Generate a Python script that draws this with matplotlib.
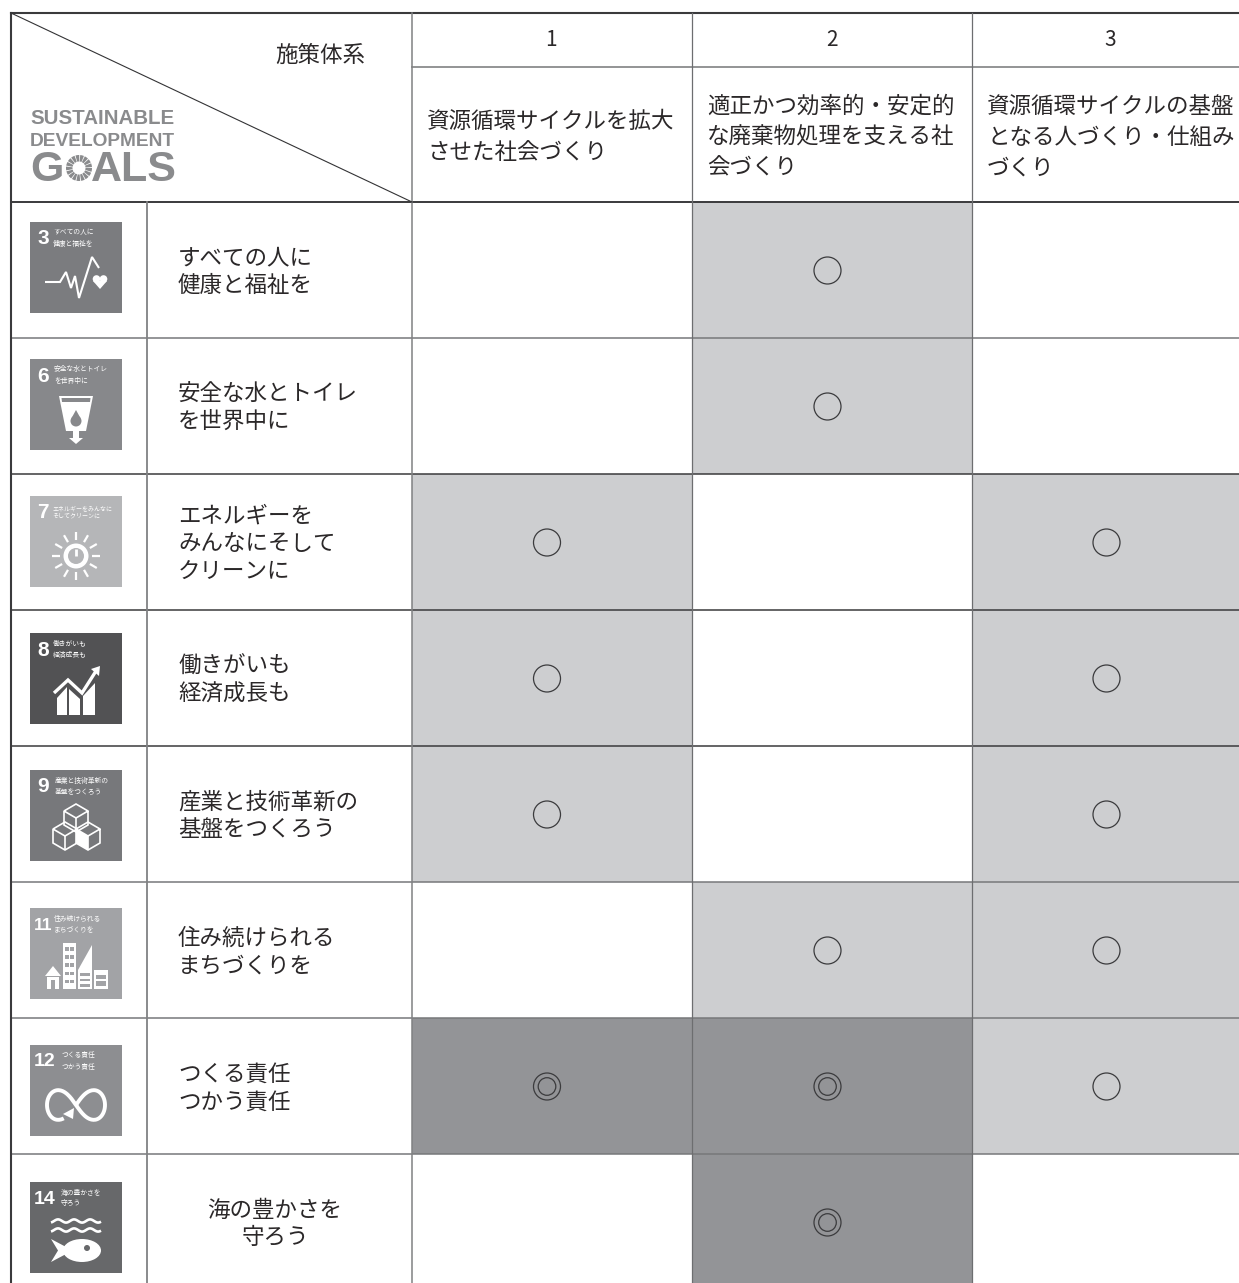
import numpy as np
import matplotlib
matplotlib.use("Agg")
import matplotlib.pyplot as plt
from matplotlib.patches import Rectangle, Circle, Polygon, Wedge, Ellipse

plt.rcParams["font.family"] = ["Noto Sans CJK JP", "DejaVu Sans"]

W, H = 1239, 1283

# the table
col_heads = ["1", "2", "3"]
col_titles = [
    "資源循環サイクルを拡大\nさせた社会づくり",
    "適正かつ効率的・安定的\nな廃棄物処理を支える社\n会づくり",
    "資源循環サイクルの基盤\nとなる人づくり・仕組み\nづくり",
]
goal_nums = ["3", "6", "7", "8", "9", "11", "12", "14"]
goal_names = [
    "すべての人に\n健康と福祉を",
    "安全な水とトイレ\nを世界中に",
    "エネルギーを\nみんなにそして\nクリーンに",
    "働きがいも\n経済成長も",
    "産業と技術革新の\n基盤をつくろう",
    "住み続けられる\nまちづくりを",
    "つくる責任\nつかう責任",
    "海の豊かさを\n守ろう",
]
goal_small = [
    "すべての人に\n健康と福祉を",
    "安全な水とトイレ\nを世界中に",
    "エネルギーをみんなに\nそしてクリーンに",
    "働きがいも\n経済成長も",
    "産業と技術革新の\n基盤をつくろう",
    "住み続けられる\nまちづくりを",
    "つくる責任\nつかう責任",
    "海の豊かさを\n守ろう",
]
icon_colors = ["#7b7c7f", "#87888b", "#b5b6b8", "#525254", "#77787b", "#a2a3a6", "#8d8e91", "#67686a"]
# 0 blank, 1 single circle, 2 double circle
marks_1 = [0, 0, 1, 1, 1, 0, 2, 0]
marks_2 = [1, 1, 0, 0, 0, 1, 2, 2]
marks_3 = [0, 0, 1, 1, 1, 1, 1, 0]

col_x = [412, 692, 972, 1239]
row_y = [202, 338, 474, 610, 746, 882, 1018, 1154, 1283]
row_line_colors = ["#77787a", "#3a3a3c", "#3a3a3c", "#3a3a3c", "#77787a", "#77787a", "#77787a"]
icon_tops = [222, 359, 496, 633, 770, 908, 1045, 1182]
mark_x = [547, 827.5, 1106.5]
small_x = [23, 24, 22, 23, 25, 24, 32, 31]
num_sizes = [15, 15, 15, 15, 15, 12.5, 14, 14]
LIGHT = "#cdced0"
DARK = "#939497"
LINE = "#3a3a3c"
TXT = "#2b2829"
LOGO = "#8a8b8d"


def icon_glyph(ax, num, x, y, bg):
    # x, y = top left of the 92px square, glyph drawn white in local coords
    def P(pts, color="white"):
        ax.add_patch(Polygon([(x + a, y + b) for a, b in pts], closed=True, color=color, lw=0, zorder=2))

    def R(a, b, w, h, color="white"):
        ax.add_patch(Rectangle((x + a, y + b), w, h, color=color, lw=0, zorder=2))

    def C(a, b, r, color="white"):
        ax.add_patch(Circle((x + a, y + b), r, color=color, lw=0, zorder=2))

    def L(pts, lw=2.0):
        ax.plot([x + a for a, b in pts], [y + b for a, b in pts], color="white", lw=lw,
                solid_joinstyle="miter", solid_capstyle="butt", zorder=2.5)

    if num == "3":
        L([(15, 60), (30, 60), (36, 50), (41, 66), (45, 54), (49, 76), (62, 35), (69, 46)], 1.5)
        C(66.5, 57, 3.8)
        C(73.5, 57, 3.8)
        P([(63, 59), (77, 59), (70, 67)])
    elif num == "6":
        P([(29, 37), (63, 37), (56, 72), (36, 72)])
        P([(31.5, 39), (60.5, 39), (60, 43), (32, 43)], bg)
        C(46, 62, 5.5, bg)
        P([(41.3, 59.5), (50.7, 59.5), (46, 51)], bg)
        P([(43, 72), (49, 72), (49, 79), (53, 79), (46, 85), (39, 79), (43, 79)])
    elif num == "7":
        C(46, 60, 12.5)
        C(46, 60, 8, bg)
        L([(46, 53), (46, 60)], 2.0)
        for ang in np.arange(0, 360, 30):
            c, s = np.cos(np.radians(ang)), np.sin(np.radians(ang))
            L([(46 + 16 * c, 60 + 16 * s), (46 + 24 * c, 60 + 24 * s)], 1.6)
    elif num == "8":
        P([(27, 65), (37, 54), (37, 82), (27, 82)])
        P([(39, 56), (50, 66), (50, 82), (39, 82)])
        P([(53, 63), (65, 50), (65, 82), (53, 82)])
        L([(24, 60), (38, 47), (52, 60), (66, 38)], 2.4)
        P([(61, 36), (70, 33), (69, 43)])
    elif num == "9":
        for cx, cy in [(46, 48), (35, 66), (58, 66)]:
            L([(cx - 12, cy - 7), (cx, cy - 14), (cx + 12, cy - 7), (cx + 12, cy + 7), (cx, cy + 14),
               (cx - 12, cy + 7), (cx - 12, cy - 7), (cx, cy), (cx + 12, cy - 7)], 1.2)
            L([(cx, cy), (cx, cy + 14)], 1.2)
        P([(46, 59), (58, 66), (58, 80), (46, 73)])
    elif num == "11":
        P([(15, 68), (23, 58), (31, 68)])
        R(17, 69, 12, 12)
        R(21, 72, 4, 9, bg)
        R(33, 35, 13, 46)
        for i in range(5):
            for j in range(2):
                R(35 + j * 5, 39 + i * 8.2, 3.5, 3.5, bg)
        P([(48, 62), (62, 37), (62, 81), (48, 81)])
        for i in range(3):
            R(50, 65 + i * 5.5, 10, 2.5, bg)
        R(64, 62, 14, 19)
        R(66, 67, 10, 4, bg)
        R(66, 73, 10, 5, bg)
    elif num == "12":
        t = np.linspace(1.5 * np.pi, 3.27 * np.pi, 140)
        xs = 46 + 29 * np.cos(t) / (1 + np.sin(t) ** 2)
        ys = 60 + 42 * np.sin(t) * np.cos(t) / (1 + np.sin(t) ** 2)
        L(list(zip(xs, ys)), 2.8)
        P([(33, 69), (44, 63), (43, 74)])
    elif num == "14":
        for wy in [39, 48]:
            t = np.linspace(21, 71, 60)
            L(list(zip(t, wy + 1.6 * np.sin(t / 2.55))), 1.9)
        ax.add_patch(Ellipse((x + 52, y + 68.5), 38, 23, color="white", lw=0, zorder=2))
        P([(21, 57), (38, 66), (38, 71), (21, 80), (28, 68.5)])
        C(57, 66, 3, bg)


def logo_wheel(ax, cx, cy, r):
    # the little SDG colour wheel in the logo, here grey
    for a in np.arange(0, 360, 21.18):
        ax.add_patch(Wedge((cx, cy), r, a, a + 17, width=r * 0.5, color=LOGO, lw=0))


fig = plt.figure(figsize=(W / 100, H / 100), dpi=100)
ax = fig.add_axes([0, 0, 1, 1])
ax.set_xlim(0, W)
ax.set_ylim(H, 0)
ax.axis("off")

# shaded cells and circles
for c, marks in enumerate([marks_1, marks_2, marks_3]):
    x0, x1 = col_x[c], col_x[c + 1]
    for r, m in enumerate(marks):
        y0, y1 = row_y[r], row_y[r + 1]
        if m == 0:
            continue
        ax.add_patch(Rectangle((x0, y0), x1 - x0, y1 - y0, color=LIGHT if m == 1 else DARK, lw=0, zorder=1))
        cx = mark_x[c]
        cy = row_y[r] + 68.5
        ax.add_patch(Circle((cx, cy), 13.5, fill=False, ec="#3b3b3d", lw=0.9, zorder=3))
        if m == 2:
            ax.add_patch(Circle((cx, cy), 8.8, fill=False, ec="#3b3b3d", lw=0.9, zorder=3))

# grid lines
ax.plot([11, 1239], [13, 13], color=LINE, lw=1.5, zorder=4)
ax.plot([412, 1239], [66.5, 66.5], color="#808183", lw=1.2, zorder=4)
ax.plot([11, 1239], [202, 202], color=LINE, lw=1.4, zorder=4)
for y, col in zip(row_y[1:-1], row_line_colors):
    ax.plot([11, 1239], [y, y], color=col, lw=1.1, zorder=4)
ax.plot([11, 11], [13, H], color=LINE, lw=1.5, zorder=4)
ax.plot([147, 147], [202, H], color="#808183", lw=1.3, zorder=4)
ax.plot([412, 412], [13, H], color="#808183", lw=1.1, zorder=4)
for x in col_x[1:-1]:
    ax.plot([x, x], [13, H], color="#6d6e70", lw=0.9, zorder=4)
ax.plot([11, 412], [13, 202], color="#333335", lw=0.8, zorder=4)

# header
ax.text(320, 55, "施策体系", fontsize=16.2, color=TXT, ha="center", va="center")
head_x = [551, 832, 1110]
for c in range(3):
    ax.text(head_x[c], 40, col_heads[c], fontsize=15, color=TXT, ha="center", va="center")
    ax.text(col_x[c] + 15, 137, col_titles[c], fontsize=16.2, color=TXT, ha="left", va="center", linespacing=1.44)

# logo
ax.text(30, 119, "SUSTAINABLE", fontsize=14.8, fontweight="bold", color=LOGO, ha="left", va="center", family="Liberation Sans")
ax.text(30, 141, "DEVELOPMENT", fontsize=13.8, fontweight="bold", color=LOGO, ha="left", va="center", family="Liberation Sans")
ax.text(30, 170, "G", fontsize=31, fontweight="bold", color=LOGO, ha="left", va="center", family="Liberation Sans")
logo_wheel(ax, 79, 168, 13)
ax.text(91, 170, "ALS", fontsize=31, fontweight="bold", color=LOGO, ha="left", va="center", family="Liberation Sans")

# goal rows
for r, num in enumerate(goal_nums):
    y0 = row_y[r]
    ix, iy = 30, icon_tops[r]
    ax.add_patch(Rectangle((ix, iy), 92, 91, color=icon_colors[r], lw=0, zorder=0.5))
    ax.text(ix + (4 if len(num) > 1 else 7), iy + 17, num, fontsize=num_sizes[r], fontweight="bold", color="white",
            ha="left", va="center", family="Liberation Sans", zorder=5)
    ax.text(ix + small_x[r], iy + 16, goal_small[r], fontsize=4.3 if num == "7" else 4.9, color="white",
            ha="left", va="center", linespacing=1.5, zorder=5)
    icon_glyph(ax, num, ix, iy, icon_colors[r])
    if num == "14":
        ax.text(275, y0 + 70, goal_names[r], fontsize=16.2, color=TXT, ha="center", va="center", linespacing=1.25)
    else:
        ax.text(178, y0 + 70, goal_names[r], fontsize=16.2, color=TXT, ha="left", va="center", linespacing=1.25)

fig.savefig("out.png", dpi=100)
